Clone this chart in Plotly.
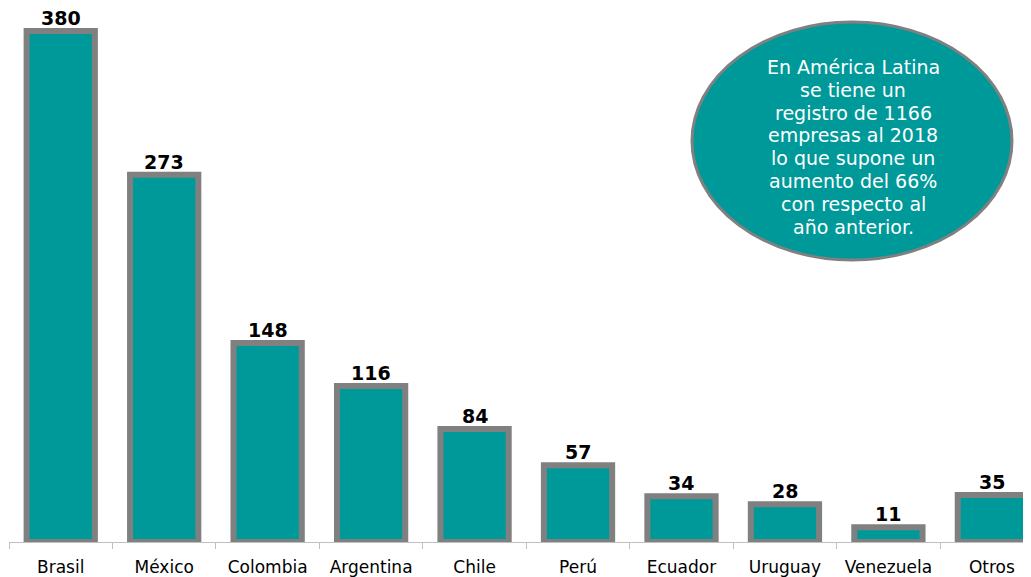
import plotly.graph_objects as go

countries = ["Brasil", "México", "Colombia", "Argentina", "Chile", "Perú", "Ecuador", "Uruguay", "Venezuela", "Otros"]
companies = [380, 273, 148, 116, 84, 57, 34, 28, 11, 35]
note_lines = ["En América Latina", "se tiene un", "registro de 1166", "empresas al 2018",
              "lo que supone un", "aumento del 66%", "con respecto al", "año anterior."]

TEAL = "#009999"
GRAY = "#808080"

# page has an 8px body margin; work in page coordinates and convert
OFF = 8
W, H = 1031 - OFF, 577 - OFF
L, R, T, B = 9 - OFF, 0, 0, 35
pw, ph = W - L - R, H - T - B
step = 103.46

def px(x):
    return (x - OFF - L) / pw

def py(y):
    return 1 - (y - OFF - T) / ph

fig = go.Figure(go.Bar(
    x=countries, y=companies,
    marker=dict(color=TEAL, line=dict(color=GRAY, width=6)),
    width=0.66, hoverinfo="x+y",
))

for c, v in zip(countries, companies):
    fig.add_annotation(x=c, y=v, xref="x", yref="y", text=f"<b>{v}</b>", showarrow=False,
                       xanchor="center", yanchor="middle", yshift=13,
                       font=dict(family="DejaVu Sans", size=19, color="black"))

fig.add_shape(type="circle", xref="paper", yref="paper",
              x0=px(692), x1=px(1012), y0=py(260), y1=py(22),
              fillcolor=TEAL, line=dict(color=GRAY, width=3), layer="above")

line_gap = 22.8
first_y = 67
for i, line in enumerate(note_lines):
    fig.add_annotation(xref="paper", yref="paper", x=px(853), y=py(first_y + i * line_gap),
                       xanchor="center", yanchor="middle", text=line, showarrow=False,
                       font=dict(family="DejaVu Sans", size=19, color="white"))

fig.update_layout(
    width=W, height=H, margin=dict(l=L, r=R, t=T, b=B),
    plot_bgcolor="white", paper_bgcolor="white", showlegend=False,
    xaxis=dict(range=[-0.5, -0.5 + pw / step], showline=True, linecolor="#bfbfbf", linewidth=1,
               ticks="outside", tickson="boundaries", ticklen=6, tickcolor="#bfbfbf",
               tickfont=dict(family="DejaVu Sans", size=17, color="black"),
               showgrid=False, automargin=False, ticklabelstandoff=10),
    yaxis=dict(range=[0, ph / 1.345], visible=False, showgrid=False, automargin=False),
)

fig.write_html("out.html")
